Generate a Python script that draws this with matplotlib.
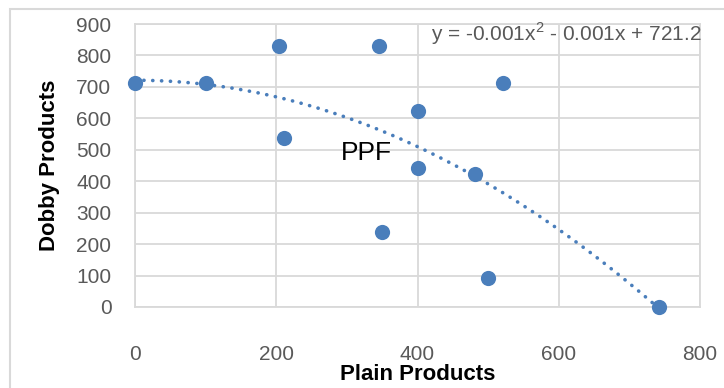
import numpy as np
import matplotlib.pyplot as plt
from matplotlib.patches import Rectangle

plain = [0, 100, 204, 211, 345, 350, 400, 400, 481, 500, 521, 742]
dobby = [712, 712, 830, 538, 830, 238, 623, 442, 423, 92, 712, 0]

# trendline coefficients (label shows them rounded)
trend = [-0.001317, -0.001, 721.2]
trend_label = 'y = -0.001x$^2$ - 0.001x + 721.2'

blue = '#4a7ebb'
grid = '#d9d9d9'
tick_col = '#595959'

plt.rcParams['font.family'] = ['Liberation Sans', 'DejaVu Sans']
plt.rcParams['mathtext.fontset'] = 'custom'
plt.rcParams['mathtext.rm'] = 'Liberation Sans'

fig = plt.figure(figsize=(7.24, 3.88), dpi=100)
ax = fig.add_axes([135 / 724, 1 - 307 / 388, 565 / 724, 283 / 388])

# outer chart border
fig.patches.append(Rectangle((10 / 724, -0.1), 1.2, 1 - 9 / 388 + 0.1,
                             transform=fig.transFigure, fill=False,
                             edgecolor=grid, linewidth=1.5))

xs = np.linspace(0, max(plain), 300)
ax.plot(xs, np.polyval(trend, xs), linestyle=(0, (0.05, 2.4)), color=blue,
        linewidth=2.6, dash_capstyle='round', zorder=2)
ax.scatter(plain, dobby, s=120, color=blue, zorder=3, linewidths=0, clip_on=False)

ax.set_xlim(0, 800)
ax.set_ylim(0, 900)
ax.set_xticks(range(0, 801, 200))
ax.set_yticks(range(0, 901, 100))
ax.grid(True, color=grid, linewidth=1.3)
ax.set_axisbelow(True)
for s in ax.spines.values():
    s.set_color(grid)
    s.set_linewidth(1.3)
ax.tick_params(length=0, labelsize=15, colors=tick_col)
ax.tick_params(axis='x', pad=27)
ax.tick_params(axis='y', pad=17)

ax.set_xlabel('Plain Products', fontsize=16, fontweight='bold', labelpad=0)
ax.set_ylabel('Dobby Products', fontsize=16, fontweight='bold', labelpad=12)

ax.text(419, 868, trend_label, fontsize=15, color=tick_col, va='center', ha='left')
ax.text(327, 490, 'PPF', fontsize=19, color='black', va='center', ha='center')

fig.savefig('out.png', dpi=100)
